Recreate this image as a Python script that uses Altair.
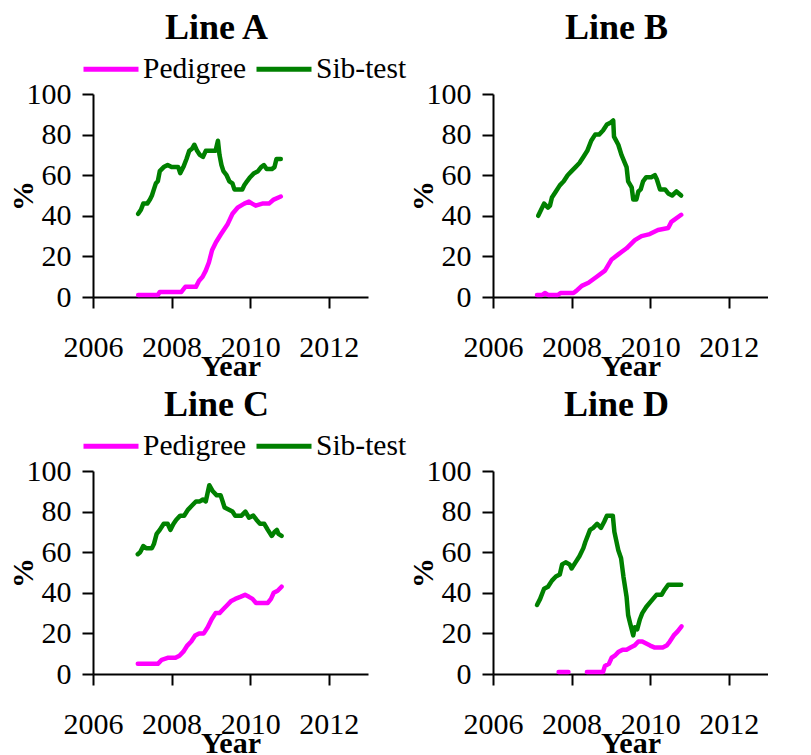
import altair as alt
import pandas as pd

SERIES = ["Pedigree", "Sib-test"]
COLORS = ["#FF00FF", "#008000"]
PANELS = ["Line A", "Line B", "Line C", "Line D"]

# ---- Line A ----
a_ped_year = [2007.15, 2007.65, 2007.7, 2008.25, 2008.35, 2008.62, 2008.7, 2008.79, 2008.87, 2008.95,
              2009.03, 2009.13, 2009.26, 2009.43, 2009.55, 2009.68, 2009.85, 2009.97, 2010.05, 2010.14,
              2010.31, 2010.48, 2010.6, 2010.78]
a_ped_pct = [1, 1, 2.5, 2.5, 5, 5, 8, 10, 13, 17, 23, 27, 31, 36, 41, 44, 46, 47, 46, 45, 46, 46, 48, 49.5]
a_sib_year = [2007.15, 2007.22, 2007.28, 2007.38, 2007.45, 2007.5, 2007.55, 2007.6, 2007.65, 2007.7,
              2007.8, 2007.9, 2008.0, 2008.1, 2008.17, 2008.22, 2008.3, 2008.38, 2008.45, 2008.52,
              2008.58, 2008.65, 2008.72, 2008.8, 2008.87, 2009.0, 2009.12, 2009.18, 2009.22, 2009.27,
              2009.32, 2009.4, 2009.47, 2009.55, 2009.6, 2009.7, 2009.8, 2009.85, 2009.92, 2010.0,
              2010.1, 2010.2, 2010.28, 2010.35, 2010.42, 2010.55, 2010.62, 2010.67, 2010.78]
a_sib_pct = [41, 43, 46, 46, 48, 50, 53, 56, 57, 62, 64, 65, 64, 64, 64, 61, 64, 68, 72, 73,
             75, 72, 70, 69, 72, 72, 72, 77, 70, 65, 62, 60, 57, 56, 53, 53, 53, 55, 57, 59,
             61, 62, 64, 65, 63, 63, 64, 68, 68]

# ---- Line B ----
b_ped_year = [2007.12, 2007.25, 2007.32, 2007.4, 2007.65, 2007.72, 2008.05, 2008.12, 2008.26, 2008.43,
              2008.64, 2008.85, 2009.02, 2009.19, 2009.4, 2009.61, 2009.78, 2009.99, 2010.2, 2010.46,
              2010.54, 2010.79]
b_ped_pct = [1, 1, 2, 1, 1, 2, 2, 3, 5.5, 7, 10, 13, 18.5, 21, 24, 28, 30, 31, 33, 34, 37, 40.5]
b_sib_year = [2007.15, 2007.2, 2007.3, 2007.4, 2007.45, 2007.5, 2007.6, 2007.7, 2007.8, 2007.9,
              2008.0, 2008.1, 2008.2, 2008.3, 2008.4, 2008.5, 2008.6, 2008.7, 2008.8, 2008.9,
              2009.0, 2009.06, 2009.08, 2009.19, 2009.27, 2009.4, 2009.44, 2009.53, 2009.57, 2009.65,
              2009.7, 2009.76, 2009.82, 2009.9, 2010.03, 2010.12, 2010.17, 2010.25, 2010.38, 2010.46,
              2010.56, 2010.67, 2010.79]
b_sib_pct = [40, 42, 46, 44, 45, 49, 52, 55, 57, 60, 62, 64, 66, 69, 72, 77, 80, 80, 82, 85,
             86, 87, 79, 75, 70, 64, 57, 54, 48, 48, 52, 53, 57, 59, 59, 60, 58, 53, 53, 51,
             50, 52, 50]

# ---- Line C ----
c_ped_year = [2007.14, 2007.65, 2007.75, 2007.9, 2008.1, 2008.2, 2008.3, 2008.4, 2008.5, 2008.6,
              2008.7, 2008.82, 2008.92, 2009.02, 2009.12, 2009.22, 2009.32, 2009.42, 2009.52, 2009.62,
              2009.75, 2009.87, 2009.97, 2010.06, 2010.15, 2010.3, 2010.45, 2010.53, 2010.6, 2010.7,
              2010.8]
c_ped_pct = [5, 5, 7, 8, 8, 9, 11, 14, 16, 19, 20, 20, 23, 27, 30, 30, 32, 34, 36, 37,
             38, 39, 38, 37, 35, 35, 35, 37, 40, 41, 43]
c_sib_year = [2007.14, 2007.2, 2007.28, 2007.35, 2007.5, 2007.55, 2007.62, 2007.7, 2007.8, 2007.9,
              2007.97, 2008.05, 2008.12, 2008.22, 2008.32, 2008.42, 2008.52, 2008.62, 2008.72, 2008.8,
              2008.87, 2008.96, 2009.05, 2009.15, 2009.25, 2009.35, 2009.45, 2009.55, 2009.62, 2009.78,
              2009.88, 2009.97, 2010.08, 2010.16, 2010.25, 2010.36, 2010.45, 2010.55, 2010.62, 2010.68,
              2010.72, 2010.8]
c_sib_pct = [59, 60, 63, 62, 62, 64, 69, 71, 74, 74, 71, 74, 76, 78, 78, 81, 83, 85, 85, 86,
             85, 93, 90, 88, 88, 82, 81, 80, 78, 78, 80, 77, 78, 76, 74, 74, 71, 68, 70, 71,
             69, 68]

# ---- Line D ----
d_ped_year = [2007.67, 2007.92, 2008.1, 2008.39, 2008.8, 2008.85, 2008.95, 2009.02, 2009.1, 2009.2,
              2009.3, 2009.4, 2009.5, 2009.6, 2009.7, 2009.8, 2009.9, 2010.0, 2010.12, 2010.22,
              2010.32, 2010.42, 2010.5, 2010.6, 2010.7, 2010.8]
d_ped_pct = [1, 1, None, 1, 1, 4, 5, 8, 9, 11, 12, 12, 13, 14, 16, 16, 15, 14, 13, 13,
             13, 14, 16, 19, 21, 23.5]
d_sib_year = [2007.12, 2007.2, 2007.3, 2007.4, 2007.5, 2007.6, 2007.7, 2007.76, 2007.85, 2007.95,
              2008.0, 2008.1, 2008.2, 2008.3, 2008.35, 2008.47, 2008.55, 2008.65, 2008.75, 2008.83,
              2008.9, 2009.05, 2009.09, 2009.19, 2009.26, 2009.32, 2009.4, 2009.44, 2009.49, 2009.57,
              2009.61, 2009.67, 2009.74, 2009.8, 2009.9, 2010.03, 2010.16, 2010.29, 2010.35, 2010.46,
              2010.79]
d_sib_pct = [34, 37, 42, 43, 46, 48, 49, 54, 55, 54, 52, 55, 58, 62, 65, 71, 72, 74, 72, 75,
             78, 78, 70, 61, 57, 48, 38, 29, 25, 19, 23, 22, 27, 30, 33, 36, 39, 39, 41, 44,
             44]

DATA = {
    "Line A": [(a_ped_year, a_ped_pct), (a_sib_year, a_sib_pct)],
    "Line B": [(b_ped_year, b_ped_pct), (b_sib_year, b_sib_pct)],
    "Line C": [(c_ped_year, c_ped_pct), (c_sib_year, c_sib_pct)],
    "Line D": [(d_ped_year, d_ped_pct), (d_sib_year, d_sib_pct)],
}

FONT = "Liberation Serif"


def make_df(panel):
    rows = []
    for name, (years, pcts) in zip(SERIES, DATA[panel]):
        seg = 0
        for yr, p in zip(years, pcts):
            if p is None:
                seg += 1
                continue
            rows.append({"year": yr, "pct": p, "series": name, "seg": f"{name}-{seg}"})
    return pd.DataFrame(rows)


def panel_chart(panel):
    df = make_df(panel)
    return (
        alt.Chart(df)
        .mark_line(strokeWidth=4.5, strokeCap="round", strokeJoin="round")
        .encode(
            x=alt.X(
                "year:Q",
                scale=alt.Scale(domain=[2006, 2013], nice=False, zero=False),
                axis=alt.Axis(
                    values=[2006, 2008, 2010, 2012], format="d", title="Year",
                    labelFlush=False, labelOverlap=False, labelPadding=24,
                    titleY=78, titleBaseline="alphabetic",
                ),
            ),
            y=alt.Y(
                "pct:Q",
                scale=alt.Scale(domain=[0, 100], nice=False),
                axis=alt.Axis(
                    values=[0, 20, 40, 60, 80, 100], title="%",
                    labelFlush=False, labelOverlap=False, labelPadding=11,
                    titleX=-70, titleBaseline="middle",
                ),
            ),
            color=alt.Color(
                "series:N",
                scale=alt.Scale(domain=SERIES, range=COLORS),
                legend=alt.Legend(
                    title=None, orient="none", legendX=-12, legendY=-55,
                    direction="horizontal", symbolType="stroke", symbolSize=3025,
                    symbolStrokeWidth=5, labelFont=FONT, labelFontSize=29.5,
                    labelOffset=2, columnPadding=-1, padding=0, labelColor="black",
                ),
            ),
            detail="seg:N",
        )
        .properties(
            width=275, height=203,
            title=alt.TitleParams(panel, fontSize=36, fontWeight="bold", font=FONT,
                                  offset=32, frame="group", dx=-14, color="black"),
        )
    )


top = alt.hconcat(panel_chart("Line A"), panel_chart("Line B"), spacing=40)
bottom = alt.hconcat(panel_chart("Line C"), panel_chart("Line D"), spacing=40)

chart = (
    alt.vconcat(top, bottom, spacing=6)
    .resolve_scale(color="independent")
    .configure(font=FONT, padding={"top": 2, "left": 0, "right": 0, "bottom": 0})
    .configure_view(strokeWidth=0)
    .configure_axis(
        grid=False, domainColor="black", domainWidth=2, tickColor="black", tickWidth=2,
        tickSize=11, labelFont=FONT, labelFontSize=30, labelColor="black",
        titleFont=FONT, titleFontSize=30, titleFontWeight="bold", titleColor="black",
    )
)

chart.save("out.html", embed_options={"renderer": "svg", "actions": False})
